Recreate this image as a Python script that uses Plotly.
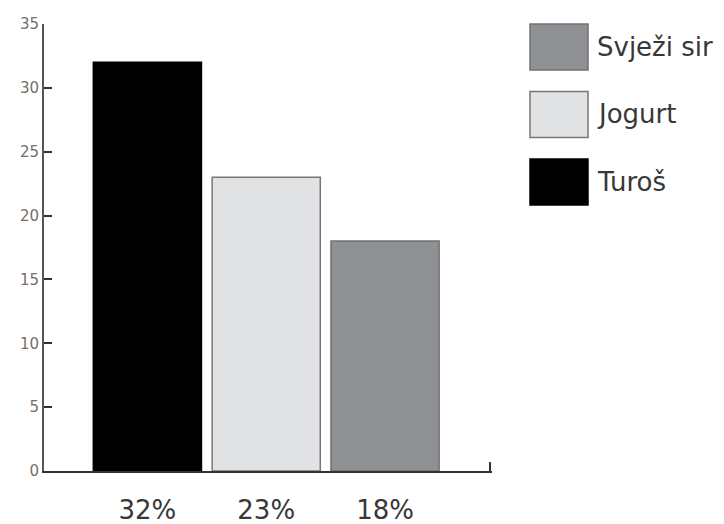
import plotly.graph_objects as go

categories = ["32%", "23%", "18%"]
series_names = ["Svježi sir", "Jogurt", "Turoš"]
series_cats = ["18%", "23%", "32%"]
series_values = [18, 23, 32]
series_colors = ["#8e9093", "#e1e2e4", "#000000"]
series_lines = ["#6f7173", "#777777", "#000000"]
y_ticks = [0, 5, 10, 15, 20, 25, 30, 35]

fig = go.Figure()
for name, cat, val, col, lc in zip(series_names, series_cats, series_values, series_colors, series_lines):
    fig.add_trace(go.Bar(
        x=[cat], y=[val], name=name, width=0.91,
        marker=dict(color=col, line=dict(color=lc, width=1.5)),
        showlegend=False,
    ))

font = "'DejaVu Sans', sans-serif"
for i, (name, col, lc) in enumerate(zip(series_names, series_colors, series_lines)):
    top = 24 + i * 67.5
    fig.add_shape(type="rect", xref="paper", yref="paper",
                  x0=(530 - 44) / 448, x1=(588 - 44) / 448,
                  y0=1 - (top + 46 - 24) / 447, y1=1 - (top - 24) / 447,
                  fillcolor=col, line=dict(color=lc, width=1.5))
    fig.add_annotation(text=name, xref="paper", yref="paper",
                       x=(595 - 44) / 448, y=1 - (top + 23 - 24) / 447,
                       xanchor="left", yanchor="middle", showarrow=False,
                       font=dict(size=26, color="#383838", family=font))

fig.add_shape(type="line", xref="x domain", yref="y domain",
              x0=0.9955, x1=0.9955, y0=0, y1=0.02,
              line=dict(color="#333333", width=2))

fig.update_layout(
    width=724, height=524,
    margin=dict(l=44, r=232, t=24, b=53),
    paper_bgcolor="white", plot_bgcolor="white",
    barmode="overlay",
    font=dict(family=font),
    xaxis=dict(
        categoryorder="array", categoryarray=categories,
        range=[-0.87, 2.9], automargin=False,
        showline=True, linecolor="#333333", linewidth=2,
        ticks="", showgrid=False, zeroline=False,
        tickfont=dict(size=26, color="#383838", family=font),
        ticklabelstandoff=15,
    ),
    yaxis=dict(
        range=[0, 35], tickvals=y_ticks, automargin=False,
        showline=True, linecolor="#555555", linewidth=2,
        ticks="inside", ticklen=8, tickwidth=2, tickcolor="#333333",
        showgrid=False, zeroline=False,
        tickfont=dict(size=15, color="#707070", family=font),
    ),
)

fig.write_html("out.html", config={"displayModeBar": False},
               post_script="document.body.style.margin='0';document.body.style.overflow='hidden';")
